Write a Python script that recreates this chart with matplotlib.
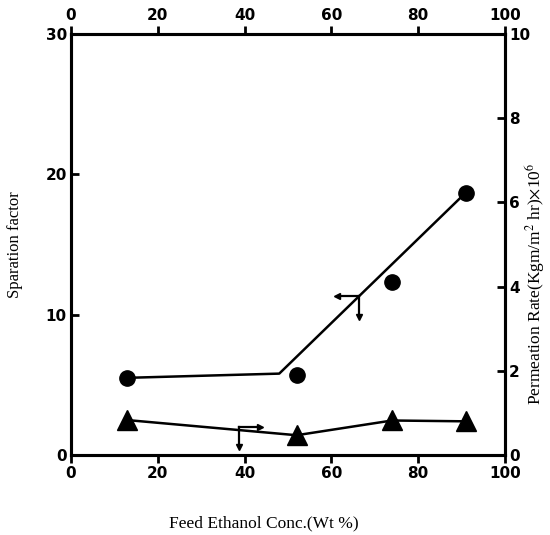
import matplotlib
matplotlib.use("Agg")
import matplotlib.pyplot as plt

plt.rcParams["mathtext.fontset"] = "stix"

# data
feed = [13, 52, 74, 91]                    # feed ethanol conc. (wt %)
sep_factor = [5.5, 5.7, 12.3, 18.7]        # circles, left axis
perm_rate = [0.83, 0.47, 0.82, 0.80]       # triangles, right axis

# drawn trend line for the separation factor
sep_line_x = [13, 48, 91]
sep_line_y = [5.5, 5.8, 18.7]

x_ticks = [0, 20, 40, 60, 80, 100]
left_ticks = [0, 10, 20, 30]
right_ticks = [0, 2, 4, 6, 8, 10]

tickfont = dict(family="DejaVu Sans", weight="bold", size=11)
serif = "Liberation Serif"

fig = plt.figure(figsize=(5.5, 5.35), dpi=100)
ax = fig.add_axes([0.129, 0.1495, 0.789, 0.787])
ax2 = ax.twinx()

ax.plot(sep_line_x, sep_line_y, color="black", lw=1.8)
ax.plot(feed, sep_factor, "o", color="black", ms=11)

ax2.plot(feed, perm_rate, color="black", lw=1.8)
ax2.plot(feed, perm_rate, "^", color="black", ms=14)

ax.set_xlim(0, 100)
ax.set_ylim(0, 30)
ax2.set_ylim(0, 10)

# axis-direction arrows
ax.plot([66.4, 61.8], [11.3, 11.3], color="black", lw=1.6)
ax.plot([66.4, 66.4], [11.3, 10.0], color="black", lw=1.6)
ax.plot([61.2], [11.3], "<", color="black", ms=5)
ax.plot([66.4], [9.8], "v", color="black", ms=5)
ax2.plot([38.7, 43.0], [0.67, 0.67], color="black", lw=1.6)
ax2.plot([38.7, 38.7], [0.67, 0.22], color="black", lw=1.6)
ax2.plot([43.6], [0.67], ">", color="black", ms=5)
ax2.plot([38.7], [0.19], "v", color="black", ms=5)

ax.set_xticks(x_ticks)
ax.set_yticks(left_ticks)
ax2.set_yticks(right_ticks)
ax.tick_params(axis="x", direction="out", length=6, width=2,
               top=True, labeltop=True, pad=2)
ax.tick_params(axis="y", direction="in", length=6, width=2, pad=3)
ax2.tick_params(axis="y", direction="in", length=6, width=2, pad=3)
for lab in ax.get_xticklabels() + ax.get_yticklabels() + ax2.get_yticklabels():
    lab.set_fontproperties(matplotlib.font_manager.FontProperties(**tickfont))

for a in (ax, ax2):
    for s in a.spines.values():
        s.set_linewidth(2.2)

ax.set_ylabel("Sparation factor", family=serif, size=12, labelpad=16)
fig.text(0.972, 0.47, r"Permeation Rate(Kgm/m$^2$ hr)$\times$10$^6$",
         family=serif, size=12.5, rotation=90, ha="center", va="center")
fig.text(0.48, 0.015, "Feed Ethanol Conc.(Wt %)", family=serif, size=12.5,
         ha="center")

fig.savefig("out.png", dpi=100)
